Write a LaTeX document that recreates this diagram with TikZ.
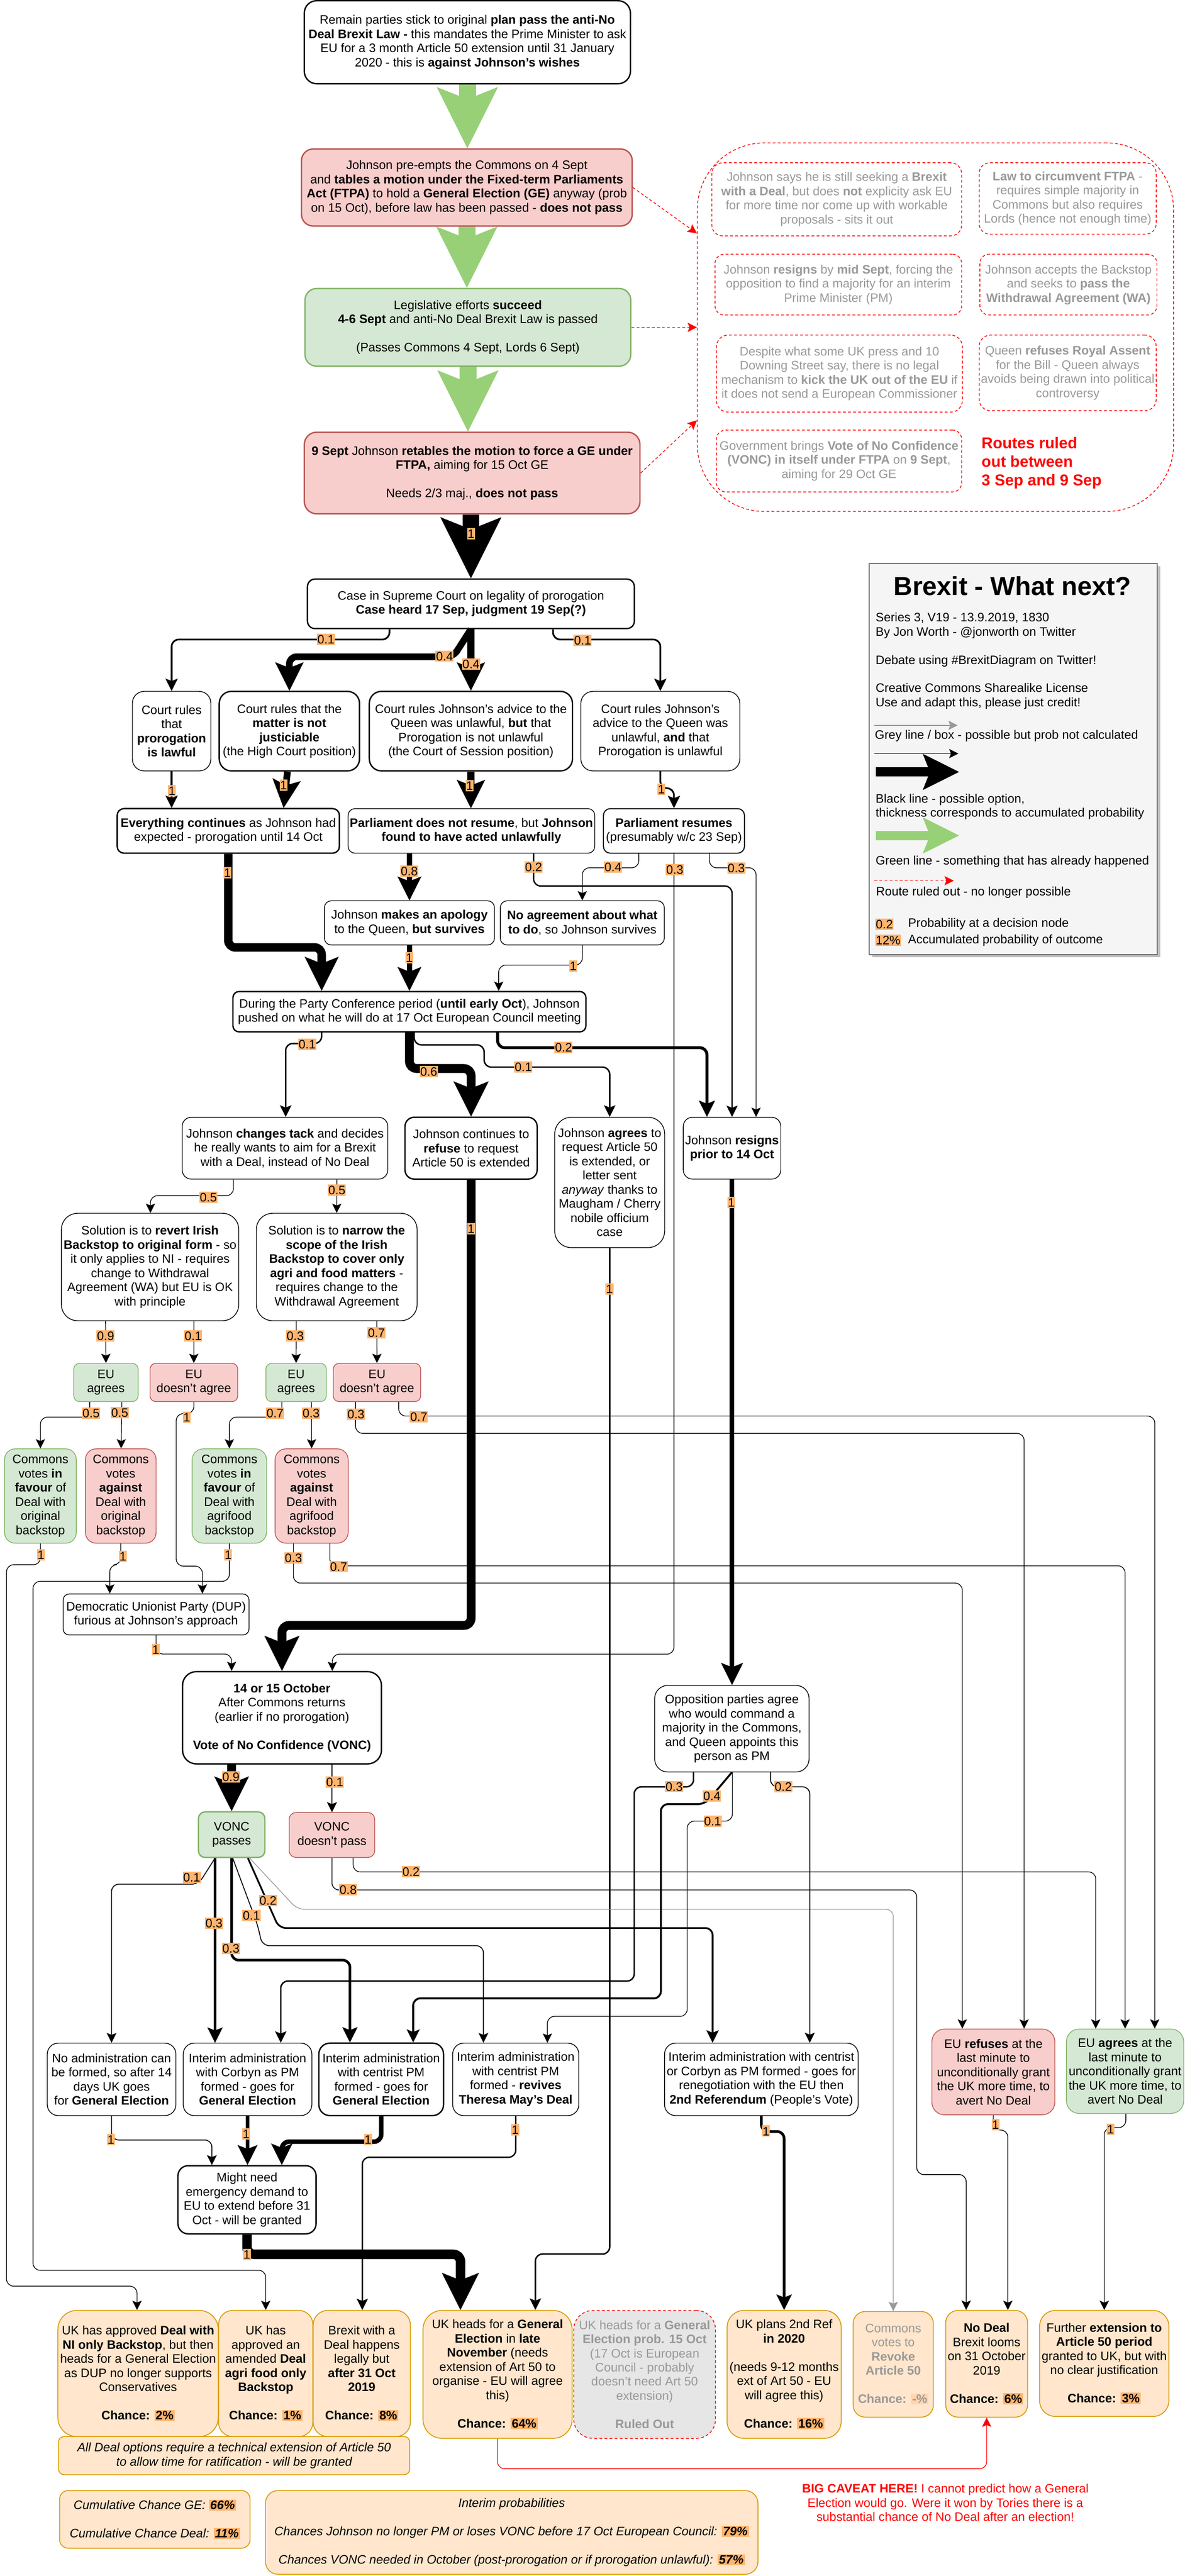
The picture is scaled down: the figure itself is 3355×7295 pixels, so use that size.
\documentclass[tikz,border=0pt]{standalone}
\usepackage{fontspec}
\setmainfont{Liberation Sans}
\usetikzlibrary{arrows.meta,shadows}
\definecolor{pinkf}{HTML}{F8CECC}
\definecolor{pinkd}{HTML}{B85450}
\definecolor{grnf}{HTML}{D5E8D4}
\definecolor{grnd}{HTML}{82B366}
\definecolor{outf}{HTML}{FFE6CC}
\definecolor{outd}{HTML}{D79B00}
\definecolor{labc}{HTML}{FFB570}
\definecolor{fatg}{HTML}{97D077}
\definecolor{greyt}{HTML}{999999}
\definecolor{lgf}{HTML}{F5F5F5}
\definecolor{lgd}{HTML}{666666}
\definecolor{roF}{HTML}{E6E6E6}
\definecolor{rred}{HTML}{FF0000}
\newcommand\hlc[1]{{\setlength{\fboxsep}{1pt}\colorbox{labc}{#1}}}
\newcommand\hlf[1]{{\setlength{\fboxsep}{1pt}\colorbox{labc!55!white}{#1}}}
\newcommand\skipln{\\[11.4pt]}
\tikzset{
  bx/.style={draw, fill=white, align=center, inner sep=0pt, line width=0.6pt},
  thk/.style={line width=1.1pt},
  pk/.style={bx, fill=pinkf, draw=pinkd},
  gn/.style={bx, fill=grnf, draw=grnd},
  ot/.style={bx, fill=outf, draw=outd, line width=0.7pt},
  rdash/.style={dash pattern=on 2.3pt off 1.8pt},
  ro/.style={bx, draw=rred, rdash, text=greyt},
  lab/.style={fill=labc, inner xsep=0.4pt, inner ysep=0.8pt, text height=7.3pt, text depth=0.2pt},
  lt/.style={anchor=west, inner sep=0pt, text height=7.2pt, text depth=2pt},
  aw/.style={line width=#1*0.01cm, rounded corners=0.2cm,
    /utils/exec={\pgfmathsetmacro\ahL{(20+3.2*#1)*0.01}\pgfmathsetmacro\ahI{(4+0.64*#1)*0.01}},
    -{Stealth[length=\ahL cm,width=\ahL cm,inset=\ahI cm,line width=0pt]}},
  gar/.style={aw=48, color=fatg},
}
\begin{document}
\begin{tikzpicture}[x=0.01cm,y=-0.01cm,font=\fontsize{9.9}{11.4}\selectfont]
\useasboundingbox (0,0) rectangle (3355,7295);

% ---------- ruled out area ----------
\node[draw=rred, rdash, line width=0.6pt, minimum width=13.48cm, minimum height=10.43cm, rounded corners=1.9cm, inner sep=0pt] (RA) at (2649,926.5) {};
\node[ro, minimum width=7.07cm, minimum height=2.07cm, rounded corners=0.31cm] (R1) at (2369.5,564.5) {Johnson says he is still seeking a \textbf{Brexit}\\\textbf{with a Deal}, but does \textbf{not} explicity ask EU\\for more time nor come up with workable\\proposals - sits it out};
\node[ro, minimum width=5.01cm, minimum height=2.02cm, rounded corners=0.30cm] (Rb) at (3023.5,562) {\textbf{Law to circumvent FTPA} -\\requires simple majority in\\Commons but also requires\\Lords (hence not enough time)};
\node[ro, minimum width=6.98cm, minimum height=1.72cm, rounded corners=0.26cm] (R3) at (2374,806) {Johnson \textbf{resigns} by \textbf{mid Sept}, forcing the\\opposition to find a majority for an interim\\Prime Minister (PM)};
\node[ro, minimum width=5.01cm, minimum height=1.72cm, rounded corners=0.26cm] (R4) at (3025.5,806) {Johnson accepts the Backstop\\and seeks to \textbf{pass the}\\\textbf{Withdrawal Agreement (WA)}};
\node[ro, minimum width=6.96cm, minimum height=2.18cm, rounded corners=0.33cm] (R5) at (2377,1058) {Despite what some UK press and 10\\Downing Street say, there is no legal\\mechanism to \textbf{kick the UK out of the EU} if\\it does not send a European Commissioner};
\node[ro, minimum width=5.01cm, minimum height=2.14cm, rounded corners=0.32cm] (R6) at (3023.5,1056) {Queen \textbf{refuses Royal Assent}\\for the Bill - Queen always\\avoids being drawn into political\\controversy};
\node[ro, minimum width=6.94cm, minimum height=1.75cm, rounded corners=0.26cm] (R7) at (2376,1305.5) {Government brings \textbf{Vote of No Confidence}\\\textbf{(VONC) in itself under FTPA} on \textbf{9 Sept},\\aiming for 29 Oct GE};
\node[anchor=west, align=left, inner sep=0pt, text=rred, font=\fontsize{12.6}{14.8}\selectfont\bfseries] (RT) at (2779,1311) {Routes ruled\\out between\\3 Sep and 9 Sep};

% ---------- legend ----------
\node[draw=lgd, fill=lgf, line width=0.8pt, minimum width=8.15cm, minimum height=11.07cm, inner sep=0pt,
  drop shadow={shadow xshift=0.08cm,shadow yshift=-0.08cm,opacity=1,fill=black!25}] (LG) at (2869.5,2149.5) {};
\node[font=\fontsize{21}{25}\selectfont\bfseries] (LT) at (2867,1660) {Brexit - What next?};
\node[lt] (ls1) at (2479,1751) {Series 3, V19 - 13.9.2019, 1830};
\node[lt] (ls2) at (2479,1792) {By Jon Worth - @jonworth on Twitter};
\node[lt] (ls3) at (2479,1872) {Debate using \#BrexitDiagram on Twitter!};
\node[lt] (ls4) at (2479,1951) {Creative Commons Sharealike License};
\node[lt] (ls5) at (2479,1992) {Use and adapt this, please just credit!};
\node[lt] (ls6) at (2477,2084) {Grey line / box - possible but prob not calculated};
\node[lt] (ls7) at (2479,2264) {Black line - possible option,};
\node[lt] (ls8) at (2479,2304) {thickness corresponds to accumulated probability};
\node[lt] (ls9) at (2479,2440) {Green line - something that has already happened};
\node[lt] (ls10) at (2480,2528) {Route ruled out - no longer possible};
\node[lab, anchor=west] (lq1) at (2478,2617) {0.2};
\node[lt] (ls11) at (2571,2617) {Probability at a decision node};
\node[lab, anchor=west] (lq2) at (2478,2663) {12\%};
\node[lt] (ls12) at (2571,2663) {Accumulated probability of outcome};
\coordinate (lg1a) at (2476,2054); \coordinate (lg1b) at (2712,2054);
\coordinate (lg2a) at (2476,2134); \coordinate (lg2b) at (2714,2134);
\coordinate (lg3a) at (2480,2186); \coordinate (lg3b) at (2716,2186);
\coordinate (lg4a) at (2480,2366); \coordinate (lg4b) at (2716,2366);
\coordinate (lg5a) at (2476,2494); \coordinate (lg5b) at (2701,2494);
\draw[aw=2, greyt] (lg1a) -- (lg1b);
\draw[aw=2] (lg2a) -- (lg2b);
\draw[aw=26] (lg3a) -- (lg3b);
\draw[aw=26, color=fatg] (lg4a) -- (lg4b);
\draw[aw=2, rred, rdash] (lg5a) -- (lg5b);

% ---------- main boxes ----------
\node[bx, thk, minimum width=9.23cm, minimum height=2.35cm, rounded corners=0.35cm] (T1) at (1323.5,119.5) {Remain parties stick to original \textbf{plan pass the anti-No}\\\textbf{Deal Brexit Law -} this mandates the Prime Minister to ask\\EU for a 3 month Article 50 extension until 31 January\\2020 - this is \textbf{against Johnson's wishes}};
\node[pk, thk, minimum width=9.36cm, minimum height=2.18cm, rounded corners=0.33cm] (T2) at (1322,531) {Johnson pre-empts the Commons on 4 Sept\\and \textbf{tables a motion under the Fixed-term Parliaments}\\\textbf{Act (FTPA)} to hold a \textbf{General Election (GE)} anyway (prob\\on 15 Oct), before law has been passed - \textbf{does not pass}};
\node[gn, thk, minimum width=9.22cm, minimum height=2.2cm, rounded corners=0.33cm] (T3) at (1325,927) {Legislative efforts \textbf{succeed}\\\textbf{4-6 Sept} and anti-No Deal Brexit Law is passed\skipln(Passes Commons 4 Sept, Lords 6 Sept)};
\node[pk, thk, minimum width=9.5cm, minimum height=2.31cm, rounded corners=0.35cm] (T4) at (1337,1339.5) {\textbf{9 Sept} Johnson \textbf{retables the motion to force a GE under}\\\textbf{FTPA,} aiming for 15 Oct GE\skipln Needs 2/3 maj., \textbf{does not pass}};
\node[bx, thk, minimum width=9.25cm, minimum height=1.4cm, rounded corners=0.21cm] (S1) at (1333.5,1710) {Case in Supreme Court on legality of prorogation\\\textbf{Case heard 17 Sep, judgment 19 Sep(?)}};
\node[bx, minimum width=2.22cm, minimum height=2.25cm, rounded corners=0.33cm] (C1) at (486,2070.5) {Court rules\\that\\\textbf{prorogation}\\\textbf{is lawful}};
\node[bx, thk, minimum width=3.97cm, minimum height=2.25cm, rounded corners=0.34cm] (C2) at (819.5,2070.5) {Court rules that the\\\textbf{matter is not}\\\textbf{justiciable}\\(the High Court position)};
\node[bx, thk, minimum width=5.75cm, minimum height=2.25cm, rounded corners=0.34cm] (C3) at (1333.5,2070.5) {Court rules Johnson's advice to the\\Queen was unlawful, \textbf{but} that\\Prorogation is not unlawful\\(the Court of Session position)};
\node[bx, minimum width=4.5cm, minimum height=2.25cm, rounded corners=0.34cm] (C4) at (1870,2070.5) {Court rules Johnson's\\advice to the Queen was\\unlawful, \textbf{and} that\\Prorogation is unlawful};
\node[bx, thk, minimum width=6.29cm, minimum height=1.26cm, rounded corners=0.19cm] (E1) at (646.5,2353) {\textbf{Everything continues} as Johnson had\\expected - prorogation until 14 Oct};
\node[bx, minimum width=6.98cm, minimum height=1.26cm, rounded corners=0.19cm] (E2) at (1335,2353) {\textbf{Parliament does not resume}, but \textbf{Johnson}\\\textbf{found to have acted unlawfully}};
\node[bx, line width=0.8pt, minimum width=3.99cm, minimum height=1.26cm, rounded corners=0.19cm] (E3) at (1908.5,2353) {\textbf{Parliament resumes}\\(presumably w/c 23 Sep)};
\node[bx, minimum width=4.81cm, minimum height=1.25cm, rounded corners=0.19cm] (J1) at (1159.5,2613.5) {Johnson \textbf{makes an apology}\\to the Queen, \textbf{but survives}};
\node[bx, minimum width=4.64cm, minimum height=1.25cm, rounded corners=0.19cm] (J2) at (1649,2613.5) {\textbf{No agreement about what}\\\textbf{to do}, so Johnson survives};
\node[bx, thk, minimum width=9.99cm, minimum height=1.14cm, rounded corners=0.17cm] (P) at (1159.5,2865) {During the Party Conference period (\textbf{until early Oct}), Johnson\\pushed on what he will do at 17 Oct European Council meeting};
\node[bx, minimum width=5.82cm, minimum height=1.75cm, rounded corners=0.26cm] (K1) at (807,3251.5) {Johnson \textbf{changes tack} and decides\\he really wants to aim for a Brexit\\with a Deal, instead of No Deal};
\node[bx, thk, minimum width=3.74cm, minimum height=1.75cm, rounded corners=0.26cm] (K2) at (1334,3251.5) {Johnson continues to\\\textbf{refuse} to request\\Article 50 is extended};
\node[bx, minimum width=3.11cm, minimum height=3.69cm, rounded corners=0.47cm] (K3) at (1726.5,3348.5) {Johnson \textbf{agrees} to\\request Article 50\\is extended, or\\letter sent\\\textit{anyway} thanks to\\Maugham / Cherry\\nobile officium\\case};
\node[bx, minimum width=2.76cm, minimum height=1.75cm, rounded corners=0.26cm] (K4) at (2073,3251.5) {Johnson \textbf{resigns}\\\textbf{prior to 14 Oct}};
\node[bx, minimum width=5.02cm, minimum height=3.04cm, rounded corners=0.46cm] (L1) at (425,3588) {Solution is to \textbf{revert Irish}\\\textbf{Backstop to original form} - so\\it only applies to NI - requires\\change to Withdrawal\\Agreement (WA) but EU is OK\\with principle};
\node[bx, minimum width=4.55cm, minimum height=3.04cm, rounded corners=0.46cm] (L2) at (953.5,3588) {Solution is to \textbf{narrow the}\\\textbf{scope of the Irish}\\\textbf{Backstop to cover only}\\\textbf{agri and food matters} -\\requires change to the\\Withdrawal Agreement};
\node[gn, minimum width=1.82cm, minimum height=1.08cm, rounded corners=0.16cm] (EA1) at (300,3915) {EU\\agrees};
\node[pk, minimum width=2.48cm, minimum height=1.08cm, rounded corners=0.16cm] (ED1) at (549,3915) {EU\\doesn't agree};
\node[gn, minimum width=1.71cm, minimum height=1.08cm, rounded corners=0.16cm] (EA2) at (838.5,3915) {EU\\agrees};
\node[pk, minimum width=2.47cm, minimum height=1.08cm, rounded corners=0.16cm] (ED2) at (1067.5,3915) {EU\\doesn't agree};
\node[gn, minimum width=2.03cm, minimum height=2.67cm, rounded corners=0.30cm] (CV1) at (114.5,4236.5) {Commons\\votes \textbf{in}\\\textbf{favour} of\\Deal with\\original\\backstop};
\node[pk, minimum width=2.00cm, minimum height=2.67cm, rounded corners=0.30cm] (CV2) at (342,4236.5) {Commons\\votes\\\textbf{against}\\Deal with\\original\\backstop};
\node[gn, minimum width=2.11cm, minimum height=2.67cm, rounded corners=0.32cm] (CV3) at (649.5,4236.5) {Commons\\votes \textbf{in}\\\textbf{favour} of\\Deal with\\agrifood\\backstop};
\node[pk, minimum width=2.07cm, minimum height=2.67cm, rounded corners=0.31cm] (CV4) at (882.5,4236.5) {Commons\\votes\\\textbf{against}\\Deal with\\agrifood\\backstop};
\node[bx, minimum width=5.26cm, minimum height=1.16cm, rounded corners=0.17cm] (DUP) at (442,4572) {Democratic Unionist Party (DUP)\\furious at Johnson's approach};
\node[bx, thk, minimum width=5.63cm, minimum height=2.61cm, rounded corners=0.39cm] (VONC) at (798.5,4864.5) {\textbf{14 or 15 October}\\After Commons returns\\(earlier if no prorogation)\skipln\textbf{Vote of No Confidence (VONC)}};
\node[bx, minimum width=4.37cm, minimum height=2.45cm, rounded corners=0.37cm] (Opp) at (2072.5,4895.5) {Opposition parties agree\\who would command a\\majority in the Commons,\\and Queen appoints this\\person as PM};
\node[gn, thk, minimum width=1.88cm, minimum height=1.29cm, rounded corners=0.19cm] (VP) at (656,5195.5) {VONC\\passes};
\node[pk, minimum width=2.42cm, minimum height=1.27cm, rounded corners=0.19cm] (VN) at (940,5196.5) {VONC\\doesn't pass};
\node[bx, minimum width=3.64cm, minimum height=2.05cm, rounded corners=0.31cm] (NA) at (316,5888.5) {No administration can\\be formed, so after 14\\days UK goes\\for \textbf{General Election}};
\node[bx, minimum width=3.64cm, minimum height=2.05cm, rounded corners=0.31cm] (CG) at (701,5888.5) {Interim administration\\with Corbyn as PM\\formed - goes for\\\textbf{General Election}};
\node[bx, thk, minimum width=3.53cm, minimum height=2.05cm, rounded corners=0.31cm] (CE) at (1079.5,5888.5) {Interim administration\\with centrist PM\\formed - goes for\\\textbf{General Election}};
\node[bx, minimum width=3.57cm, minimum height=2.05cm, rounded corners=0.31cm] (TM) at (1460.5,5888.5) {Interim administration\\with centrist PM\\formed - \textbf{revives}\\\textbf{Theresa May's Deal}};
\node[bx, minimum width=5.48cm, minimum height=2.05cm, rounded corners=0.31cm] (R2) at (2156,5888.5) {Interim administration with centrist\\or Corbyn as PM formed - goes for\\renegotiation with the EU then\\\textbf{2nd Referendum} (People's Vote)};
\node[pk, minimum width=3.48cm, minimum height=2.43cm, rounded corners=0.36cm] (ER) at (2813,5867.5) {EU \textbf{refuses} at the\\last minute to\\unconditionally grant\\the UK more time, to\\avert No Deal};
\node[gn, minimum width=3.32cm, minimum height=2.39cm, rounded corners=0.36cm] (EG) at (3186,5865.5) {EU \textbf{agrees} at the\\last minute to\\unconditionally grant\\the UK more time, to\\avert No Deal};
\node[bx, thk, minimum width=3.91cm, minimum height=1.93cm, rounded corners=0.29cm] (MN) at (699.5,6229.5) {Might need\\emergency demand to\\EU to extend before 31\\Oct - will be granted};

% ---------- outcomes ----------
\node[ot, minimum width=4.54cm, minimum height=3.57cm, rounded corners=0.54cm] (O1) at (391,6721.5) {UK has approved \textbf{Deal with}\\\textbf{NI only Backstop}, but then\\heads for a General Election\\as DUP no longer supports\\Conservatives\skipln\textbf{Chance: \hlc{2\%}}};
\node[ot, minimum width=2.67cm, minimum height=3.57cm, rounded corners=0.40cm] (O2) at (752.5,6721.5) {UK has\\approved an\\amended \textbf{Deal}\\\textbf{agri food only}\\\textbf{Backstop}\skipln\textbf{Chance: \hlc{1\%}}};
\node[ot, minimum width=2.75cm, minimum height=3.57cm, rounded corners=0.41cm] (O3) at (1024.5,6721.5) {Brexit with a\\Deal happens\\legally but\\\textbf{after 31 Oct}\\\textbf{2019}\skipln\textbf{Chance: \hlc{8\%}}};
\node[ot, minimum width=4.22cm, minimum height=3.62cm, rounded corners=0.54cm] (O4) at (1409,6724) {UK heads for a \textbf{General}\\\textbf{Election} in \textbf{late}\\\textbf{November} (needs\\extension of Art 50 to\\organise - EU will agree\\this)\skipln\textbf{Chance: \hlc{64\%}}};
\node[bx, fill=roF, draw=rred, rdash, text=greyt, minimum width=4.01cm, minimum height=3.62cm, rounded corners=0.54cm] (O5) at (1825.5,6724) {UK heads for a \textbf{General}\\\textbf{Election prob. 15 Oct}\\(17 Oct is European\\Council - probably\\doesn't need Art 50\\extension)\skipln\textbf{Ruled Out}};
\node[ot, minimum width=3.23cm, minimum height=3.62cm, rounded corners=0.48cm] (O6) at (2220.5,6724) {UK plans 2nd Ref\\\textbf{in 2020}\skipln(needs 9-12 months\\ext of Art 50 - EU\\will agree this)\skipln\textbf{Chance: \hlc{16\%}}};
\node[ot, text=greyt, minimum width=2.27cm, minimum height=2.99cm, rounded corners=0.34cm] (O7) at (2529.5,6695.5) {Commons\\votes to\\\textbf{Revoke}\\\textbf{Article 50}\skipln\textbf{Chance: \hlf{-\%}}};
\node[ot, minimum width=2.32cm, minimum height=3.02cm, rounded corners=0.35cm] (O8) at (2794,6694) {\textbf{No Deal}\\Brexit looms\\on 31 October\\2019\skipln\textbf{Chance: \hlc{6\%}}};
\node[ot, minimum width=3.66cm, minimum height=3.00cm, rounded corners=0.45cm] (O9) at (3127,6693) {Further \textbf{extension to}\\\textbf{Article 50 period}\\granted to UK, but with\\no clear justification\skipln\textbf{Chance: \hlc{3\%}}};
\node[ot, minimum width=9.94cm, minimum height=1.08cm, rounded corners=0.16cm, font=\fontsize{9.9}{11.4}\selectfont\itshape] (NOTE) at (663,6954) {All Deal options require a technical extension of Article 50\\to allow time for ratification - will be granted};
\node[ot, minimum width=5.39cm, minimum height=1.63cm, rounded corners=0.24cm, font=\fontsize{9.9}{11.4}\selectfont\itshape] (CUM) at (438.5,7134.5) {Cumulative Chance GE: \hlc{\textbf{66\%}}\skipln Cumulative Chance Deal: \hlc{\textbf{11\%}}};
\node[ot, minimum width=13.94cm, minimum height=2.37cm, rounded corners=0.36cm, font=\fontsize{9.9}{11.4}\selectfont\itshape] (INT) at (1449,7171.5) {Interim probabilities\skipln Chances Johnson no longer PM or loses VONC before 17 Oct European Council: \hlc{\textbf{79\%}}\skipln Chances VONC needed in October (post-prorogation or if prorogation unlawful): \hlc{\textbf{57\%}}};
\node[align=center, text=rred, inner sep=0pt] (CAV) at (2677,7087) {\textbf{BIG CAVEAT HERE!} I cannot predict how a General\\Election would go. Were it won by Tories there is a\\substantial chance of No Deal after an election!};

% ---------- connectors ----------
\draw[gar] (T1.south) -- (T1.south |- T2.north);
\draw[gar] (T2.south) -- (T2.south |- T3.north);
\draw[gar] (T3.south) -- (T3.south |- T4.north);
\draw[aw=2, rred, rdash] (T2.east) -- ([yshift=2.655cm]RA.west);
\draw[aw=2, rred, rdash] (T3.east) -- (T3.east -| RA.west);
\draw[aw=2, rred, rdash] (T4.east) -- ([yshift=-2.635cm]RA.west);
\draw[aw=48] (T4.south -| S1.north) -- (S1.north);
\draw[aw=4.8] ([xshift=-2.305cm]S1.south) -- ++(0,29) -| (C1.north);
\draw[aw=19] (S1.south) -- ++(-50,78) -| (C2.north);
\draw[aw=19] (S1.south) -- (C3.north);
\draw[aw=4.8] ([xshift=2.325cm]S1.south) -- ++(0,29) -| (C4.north);
\draw[aw=4.8] (C1.south) -- (C1.south |- E1.north);
\draw[aw=19] ([xshift=-0.055cm]C2.south) -- ([xshift=1.565cm]E1.north);
\draw[aw=19] (C3.south) -- (C3.south |- E2.north);
\draw[aw=4.8] (C4.south) -- ++(0,48) -| (E3.north);
\draw[aw=24] (E1.south) -- ++(0,265) -| ([xshift=-2.485cm]P.north);
\draw[aw=15] ([xshift=-1.755cm]E2.south) -- (J1.north);
\draw[aw=3.8] ([xshift=1.76cm]E2.south) -- ++(0,92) -| (K4.north);
\draw[aw=2] ([xshift=-0.995cm]E3.south) -- ++(0,40) -| (J2.north);
\draw[aw=2] (E3.south) -- ++(0,2267) -| ([xshift=1.425cm]VONC.north);
\draw[aw=2] ([xshift=1.005cm]E3.south) -- ++(0,40) -| ([xshift=0.68cm]K4.north);
\draw[aw=15] (J1.south) -- (J1.south |- P.north);
\draw[aw=2] (J2.south) -- ++(0,56) -| ([xshift=2.525cm]P.north);
\draw[aw=4.1] ([xshift=-2.485cm]P.south) -- ++(0,31) -| ([xshift=0.02cm]K1.north);
\draw[aw=25] (P.south) -- ++(0,102) -| (K2.north);
\draw[aw=4.1] ([xshift=0.135cm]P.south) -- ++(0,35) -- ++(198,0) -- ++(0,63) -| (K3.north);
\draw[aw=8.3] ([xshift=2.495cm]P.south) -- ++(0,43) -| ([xshift=-0.71cm]K4.north);
\draw[aw=2] ([xshift=-1.46cm]K1.south) -- ++(0,46) -| ([xshift=0.01cm]L1.north);
\draw[aw=2] ([xshift=1.47cm]K1.south) -- (L2.north);
\draw[aw=25] (K2.south) -- ++(0,1262) -| (VONC.north);
\draw[aw=4.1] (K3.south) -- ++(0,2849) -| ([xshift=1.07cm]O4.north);
\draw[aw=13.5] (K4.south) -- (K4.south |- Opp.north);
\draw[aw=2] ([xshift=-1.26cm]L1.south) -- (EA1.north);
\draw[aw=2] ([xshift=1.24cm]L1.south) -- (ED1.north);
\draw[aw=2] ([xshift=-1.145cm]L2.south) -- (EA2.north);
\draw[aw=2] ([xshift=1.135cm]L2.south) -- (ED2.north);
\draw[aw=2] ([xshift=-0.46cm]EA1.south) -- ++(0,43) -| (CV1.north);
\draw[aw=2] ([xshift=0.45cm]EA1.south) -- ([xshift=0.01cm]CV2.north);
\draw[aw=2] (ED1.south) -- ++(0,33) -- ++(-50,0) -- ++(0,432) -| ([xshift=1.31cm]DUP.north);
\draw[aw=2] ([xshift=-0.405cm]EA2.south) -- ++(0,43) -| (CV3.north);
\draw[aw=2] ([xshift=0.435cm]EA2.south) -- (CV4.north);
\draw[aw=2] ([xshift=-0.605cm]ED2.south) -- ++(0,89) -| ([xshift=0.87cm]ER.north);
\draw[aw=2] ([xshift=0.615cm]ED2.south) -- ++(0,40) -| ([xshift=0.84cm]EG.north);
\draw[aw=2] (CV1.south) -- ++(0,60) -- ++(-96,0) -- ++(0,2043) -| ([xshift=-0.03cm]O1.north);
\draw[aw=2] (CV2.south) -- ++(0,60) -| ([xshift=-1.31cm]DUP.north);
\draw[aw=2] (CV3.south) -- ++(0,107) -- ++(-556,0) -- ++(0,1951) -| (O2.north);
\draw[aw=2] ([xshift=-0.515cm]CV4.south) -- ++(0,112) -| ([xshift=-0.88cm]ER.north);
\draw[aw=2] ([xshift=0.515cm]CV4.south) -- ++(0,63) -| (EG.north);
\draw[aw=2] (DUP.south) -- ++(0,53) -| ([xshift=-1.425cm]VONC.north);
\draw[aw=24.6] ([xshift=-1.425cm]VONC.south) -- (VP.north);
\draw[aw=2.7] ([xshift=1.415cm]VONC.south) -- (VN.north);
\draw[aw=2.5] ([xshift=-0.47cm]VP.south) -- ++(-47,74) -| (NA.north);
\draw[aw=7.4] ([xshift=-0.47cm]VP.south) -- ([xshift=-0.92cm]CG.north);
\draw[aw=7.4] (VP.south) -- ++(0,289) -| ([xshift=-0.885cm]CE.north);
\draw[aw=2.5] ([xshift=0.03cm]VP.south) -- ++(70,188) -- ++(14,60) -| ([xshift=-0.915cm]TM.north);
\draw[aw=4.9] ([xshift=0.46cm]VP.south) -- ++(88,198) -| ([xshift=-1.38cm]R2.north);
\draw[aw=2, greyt] ([xshift=0.51cm]VP.south) -- ++(135,145) -| (O7.north);
\draw[aw=2] ([xshift=0.6cm]VN.south) -- ++(0,40) -| ([xshift=-0.83cm]EG.north);
\draw[aw=2.2] (VN.south) -- ++(0,91) -- ++(1656,0) -- ++(0,806) -| ([xshift=-0.58cm]O8.north);
\draw[aw=4] ([xshift=-1.085cm]Opp.south) -- ++(0,41) -- ++(-168,0) -- ++(0,550) -| ([xshift=0.94cm]CG.north);
\draw[aw=5.4] (Opp.south) -- ++(-76,90) -- ++(-125,0) -- ++(0,550) -| ([xshift=0.905cm]CE.north);
\draw[aw=2] ([xshift=0.015cm]Opp.south) -- ++(0,138) -- ++(-128,0) -- ++(0,553) -| ([xshift=0.895cm]TM.north);
\draw[aw=2.7] ([xshift=1.095cm]Opp.south) -- ++(0,41) -| ([xshift=1.37cm]R2.north);
\draw[aw=2.5] (NA.south) -- ++(0,68) -| ([xshift=-0.995cm]MN.north);
\draw[aw=11.5] (CG.south) -- (CG.south |- MN.north);
\draw[aw=12.8] (CE.south) -- ++(0,72) -| ([xshift=0.985cm]MN.north);
\draw[aw=3.8] (TM.south) -- ++(0,117) -| ([xshift=0.015cm]O3.north);
\draw[aw=7.6] (R2.south) -- ++(0,44) -| (O6.north);
\draw[aw=2] (ER.south) -- ++(0,42) -| ([xshift=0.6cm]O8.north);
\draw[aw=2] ([xshift=0.02cm]EG.south) -- ++(0,39) -| (O9.north);
\draw[aw=26.7] (MN.south) -- ++(0,56) -| ([xshift=-1.05cm]O4.north);
\draw[aw=2, rred] (O4.south) -- ++(0,85) -| (O8.south);

% ---------- probability labels ----------
\node[lab] (q01) at (1334,1512) {1};
\node[lab] (q02) at (923,1811) {0.1};
\node[lab] (q03) at (1259,1858) {0.4};
\node[lab] (q04) at (1334,1881) {0.4};
\node[lab] (q05) at (1650,1814) {0.1};
\node[lab] (q06) at (487,2240) {1};
\node[lab] (q07) at (803,2224) {1};
\node[lab] (q08) at (1330,2225) {1};
\node[lab] (q09) at (1873,2235) {1};
\node[lab] (q10) at (644,2471) {1};
\node[lab] (q11) at (1159,2467) {0.8};
\node[lab] (q12) at (1511,2456) {0.2};
\node[lab] (q13) at (1736,2456) {0.4};
\node[lab] (q14) at (1911,2463) {0.3};
\node[lab] (q15) at (2085,2458) {0.3};
\node[lab] (q16) at (1159,2712) {1};
\node[lab] (q17) at (1623,2736) {1};
\node[lab] (q18) at (870,2957) {0.1};
\node[lab] (q19) at (1214,3035) {0.6};
\node[lab] (q20) at (1482,3022) {0.1};
\node[lab] (q21) at (1596,2966) {0.2};
\node[lab] (q22) at (590,3391) {0.5};
\node[lab] (q23) at (954,3370) {0.5};
\node[lab] (q24) at (1334,3479) {1};
\node[lab] (q25) at (1726,3650) {1};
\node[lab] (q26) at (2071,3405) {1};
\node[lab] (q27) at (299,3783) {0.9};
\node[lab] (q28) at (547,3783) {0.1};
\node[lab] (q29) at (836,3783) {0.3};
\node[lab] (q30) at (1066,3774) {0.7};
\node[lab] (q31) at (258,4002) {0.5};
\node[lab] (q32) at (339,4001) {0.5};
\node[lab] (q33) at (529,4014) {1};
\node[lab] (q34) at (779,4002) {0.7};
\node[lab] (q35) at (881,4002) {0.3};
\node[lab] (q36) at (1008,4005) {0.3};
\node[lab] (q37) at (1186,4012) {0.7};
\node[lab] (q38) at (116,4403) {1};
\node[lab] (q39) at (348,4407) {1};
\node[lab] (q40) at (646,4403) {1};
\node[lab] (q41) at (831,4412) {0.3};
\node[lab] (q42) at (959,4436) {0.7};
\node[lab] (q43) at (441,4671) {1};
\node[lab] (q44) at (654,5032) {0.9};
\node[lab] (q45) at (948,5046) {0.1};
\node[lab] (q46) at (543,5316) {0.1};
\node[lab] (q47) at (606,5446) {0.3};
\node[lab] (q48) at (654,5518) {0.3};
\node[lab] (q49) at (712,5425) {0.1};
\node[lab] (q50) at (759,5382) {0.2};
\node[lab] (q51) at (1164,5300) {0.2};
\node[lab] (q52) at (986,5351) {0.8};
\node[lab] (q53) at (1909,5059) {0.3};
\node[lab] (q54) at (2016,5086) {0.4};
\node[lab] (q55) at (2018,5158) {0.1};
\node[lab] (q56) at (2218,5060) {0.2};
\node[lab] (q57) at (314,6059) {1};
\node[lab] (q58) at (697,6043) {1};
\node[lab] (q59) at (1042,6059) {1};
\node[lab] (q60) at (1459,6031) {1};
\node[lab] (q61) at (2169,6035) {1};
\node[lab] (q62) at (2819,6017) {1};
\node[lab] (q63) at (3145,6030) {1};
\node[lab] (q64) at (699,6384) {1};
\end{tikzpicture}
\end{document}
